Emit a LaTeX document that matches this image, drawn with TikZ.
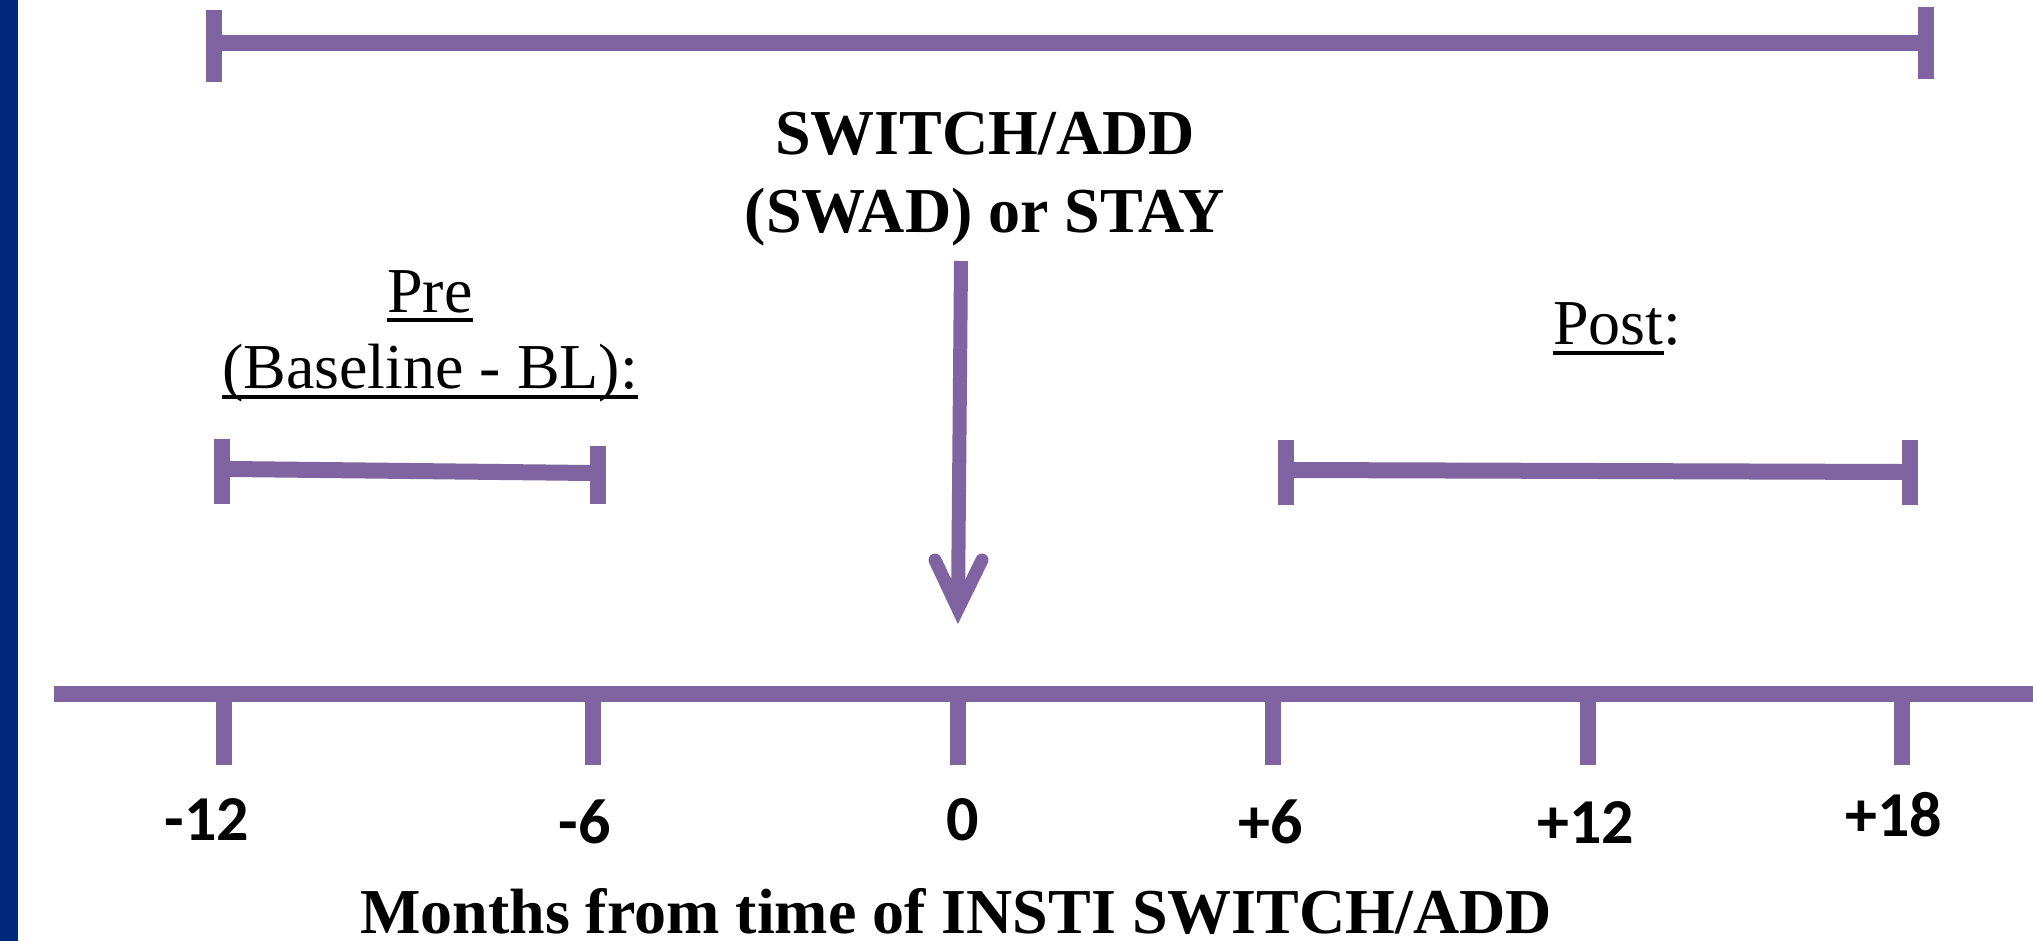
\documentclass[tikz,border=0pt]{standalone}
\usepackage{fontspec}
\setmainfont{Liberation Serif}
\newfontfamily\calib{Carlito}
\definecolor{purp}{RGB}{128,100,162}
\definecolor{navyband}{RGB}{0,41,125}
\begin{document}
\begin{tikzpicture}[x=1pt,y=-1pt,
  bar/.style={draw=purp,line width=16pt,line cap=butt},
  tickmark/.style={draw=purp,line width=16pt,line cap=butt},
  lbl/.style={inner sep=0pt,anchor=base,font=\calib\bfseries\fontsize{64}{70}\selectfont},
  ttl/.style={inner sep=0pt,anchor=base,font=\bfseries\fontsize{64}{70}\selectfont},
  reg/.style={inner sep=0pt,anchor=base,font=\fontsize{64}{70}\selectfont},
  ul/.style={draw=black,line width=3.5pt}]
\useasboundingbox (0,0) rectangle (2033,941);
\fill[white] (0,0) rectangle (2033,941);
\fill[navyband] (0,0) rectangle (18,941);

% top bracket
\coordinate (tl) at (222,43);
\coordinate (tr) at (1918,43);
\draw[bar] (tl) -- (tr);
\draw[tickmark] (214,10) -- (214,82);
\draw[tickmark] (1926,7) -- (1926,79);

% switch text
\node[ttl] (sw1) at (985,155) {SWITCH/ADD};
\node[ttl] (sw2) at (985,233) {(SWAD) or STAY};

% arrow
\coordinate (astart) at (961,261);
\coordinate (atip) at (958,609);
\draw[draw=purp,line width=14pt] (astart) -- ([yshift=4pt]atip);
\draw[draw=purp,line width=13pt,line cap=round,line join=miter] (935,560) -- (atip) -- (982,560);

% Pre label
\node[reg] (pre) at (430,312) {Pre};
\node[reg] (bl) at (430,388) {(Baseline - BL):};
\draw[ul] ([yshift=-8pt]pre.base west) -- ([yshift=-8pt]pre.base east);
\draw[ul] ([yshift=-9pt]bl.base west) -- ([yshift=-9pt]bl.base east);

% Post label
\node[reg,anchor=base west] (post) at (1553,344) {Post};
\node[reg,anchor=base west] (postc) at (post.base east) {:};
\draw[ul] ([yshift=-9pt]post.base west) -- ([yshift=-9pt]post.base east);

% Pre bracket
\coordinate (prel) at (230,469);
\coordinate (prer) at (591,473);
\draw[bar] (prel) -- (prer);
\draw[tickmark] (222,439) -- (222,504);
\draw[tickmark] (598,446) -- (598,504);

% Post bracket
\coordinate (postl) at (1294,470);
\coordinate (postr) at (1902,472);
\draw[bar] (postl) -- (postr);
\draw[tickmark] (1286,440) -- (1286,505);
\draw[tickmark] (1910,440) -- (1910,505);

% axis
\coordinate (axl) at (54,694);
\coordinate (axr) at (2033,694);
\draw[bar] (axl) -- (axr);
\foreach \x in {224,593,958,1273,1588,1902}
  \draw[tickmark] (\x,700) -- (\x,765);

% tick labels
\node[lbl] (m12) at (207,840) {-12};
\node[lbl] (m6) at (585,843) {-6};
\node[lbl] (z0) at (963,840) {0};
\node[lbl] (p6) at (1271,843) {+6};
\node[lbl] (p12) at (1586,843) {+12};
\node[lbl] (p18) at (1894,836) {+18};

% title
\node[ttl] (title) at (956,933) {Months from time of INSTI SWITCH/ADD};
\end{tikzpicture}
\end{document}
